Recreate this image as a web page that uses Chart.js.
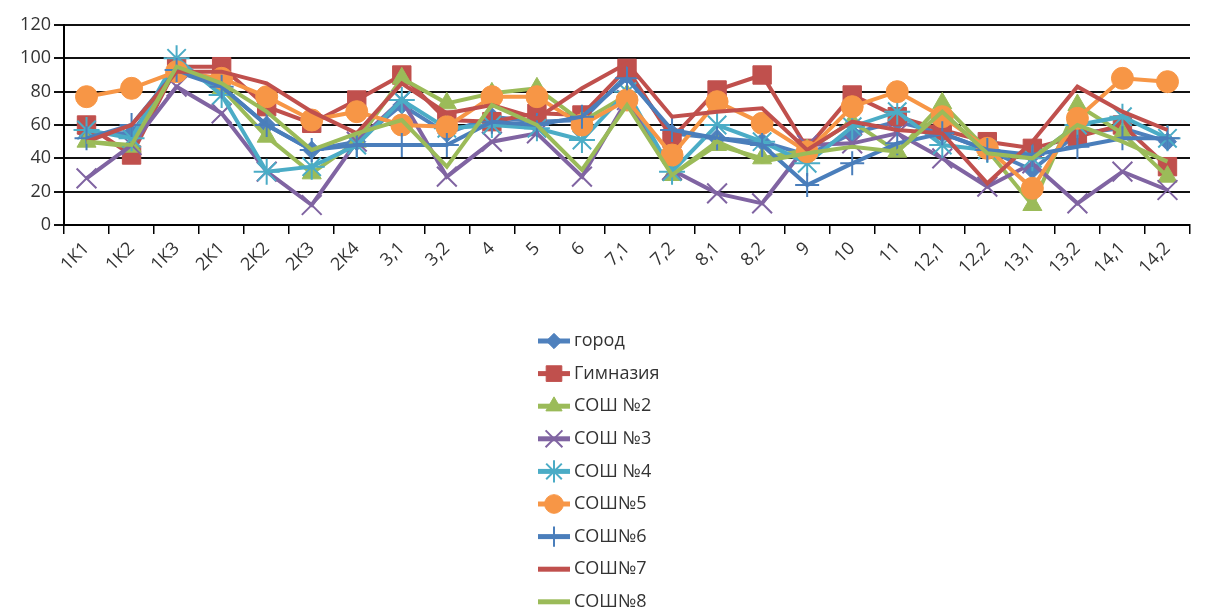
<!DOCTYPE html>
<html>
<head>
<meta charset="utf-8">
<script src="https://cdn.jsdelivr.net/npm/chart.js@4/dist/chart.umd.min.js"></script>
<style>
  html, body { margin: 0; background: #fff; }
</style>
</head>
<body>
<canvas id="chart" width="1206" height="610"></canvas>
<script>
// categories (tasks)
const categories = ['1К1', '1К2', '1К3', '2К1', '2К2', '2К3', '2К4', '3,1', '3,2', '4', '5', '6',
  '7,1', '7,2', '8,1', '8,2', '9', '10', '11', '12,1', '12,2', '13,1', '13,2', '14,1', '14,2'];

// series values, % of completion
const gorod     = [55, 55, 92, 83, 60, 45, 50, 72, 55, 65, 62, 63, 90, 55, 52, 50, 42, 55, 62, 55, 45, 33, 55, 58, 50];
const gymnasium = [60, 42, 95, 95, 71, 61, 75, 90, 63, 62, 67, 66, 94, 52, 81, 90, 46, 78, 65, 57, 50, 46, 53, 60, 35];
const school2   = [50, 47, 95, 82, 53, 31, 50, 88, 73, 79, 82, 62, 78, 30, 48, 40, 45, 62, 44, 73, 45, 12, 72, 55, 29];
const school3   = [28, 48, 83, 67, 32, 12, 50, 75, 29, 50, 55, 29, 75, 33, 19, 13, 48, 49, 55, 40, 23, 37, 13, 32, 21];
const school4   = [57, 52, 100, 78, 32, 35, 48, 75, 58, 60, 58, 51, 80, 32, 60, 50, 37, 59, 68, 48, 45, 40, 60, 65, 52];
const school5   = [77, 82, 92, 88, 77, 63, 68, 60, 59, 77, 77, 60, 75, 42, 74, 61, 44, 71, 80, 65, 46, 22, 64, 88, 86];
const school6   = [52, 60, 93, 83, 60, 45, 48, 48, 48, 62, 60, 65, 88, 57, 52, 48, 24, 37, 49, 55, 45, 42, 47, 52, 52];
const school7   = [50, 60, 92, 92, 85, 68, 55, 85, 67, 72, 64, 82, 97, 65, 68, 70, 45, 62, 57, 55, 25, 50, 83, 68, 57];
const school8   = [50, 48, 95, 85, 68, 45, 55, 63, 35, 72, 60, 33, 72, 30, 50, 38, 43, 47, 44, 68, 43, 40, 60, 50, 38];

const yTicks = [0, 20, 40, 60, 80, 100, 120];

const FONT = '"Open Sans", "Noto Sans", sans-serif';

function series(label, data, color, style, radius, bw) {
  return {
    label, data,
    borderColor: color,
    backgroundColor: color,
    borderWidth: 4,
    pointStyle: style,
    pointRadius: radius,
    pointHoverRadius: radius,
    pointBackgroundColor: color,
    pointBorderColor: color,
    pointBorderWidth: bw,
    tension: 0
  };
}

const datasets = [
  series('город', gorod, '#4F81BD', 'rectRot', 9, 1),
  series('Гимназия', gymnasium, '#C0504D', 'rect', 13, 1),
  series('СОШ №2', school2, '#9BBB59', 'triangle', 11, 1),
  series('СОШ №3', school3, '#8064A2', 'crossRot', 14, 2),
  series('СОШ №4', school4, '#4BACC6', 'star', 13, 2),
  series('СОШ№5', school5, '#F79646', 'circle', 11, 1),
  series('СОШ№6', school6, '#4A7EBB', 'cross', 12, 2),
  series('СОШ№7', school7, '#C0504D', 'circle', 0, 0),
  series('СОШ№8', school8, '#9BBB59', 'circle', 0, 0)
];
// later series drawn on top, like the original
datasets.forEach((d, i) => { d.order = datasets.length - i; });

// vertical legend under the chart
const listLegend = {
  id: 'listLegend',
  afterDraw(chart) {
    const ctx = chart.ctx;
    ctx.save();
    chart.data.datasets.forEach((ds, i) => {
      const y = 341 + i * 32.6;
      ctx.strokeStyle = ds.borderColor;
      ctx.lineWidth = 5;
      ctx.beginPath();
      ctx.moveTo(538, y);
      ctx.lineTo(570, y);
      ctx.stroke();
      if (ds.pointRadius > 0) {
        ctx.fillStyle = ds.pointBackgroundColor;
        ctx.strokeStyle = ds.pointBorderColor;
        ctx.lineWidth = ds.pointBorderWidth;
        Chart.helpers.drawPoint(ctx, {
          pointStyle: ds.pointStyle,
          radius: ds.pointRadius * 0.85,
          borderWidth: ds.pointBorderWidth,
          rotation: 0
        }, 554, y);
      }
      ctx.fillStyle = '#333';
      ctx.font = '18px ' + FONT;
      ctx.textBaseline = 'middle';
      ctx.textAlign = 'left';
      ctx.fillText(ds.label, 574, y);
    });
    ctx.restore();
  }
};

new Chart(document.getElementById('chart'), {
  type: 'line',
  data: { labels: categories, datasets },
  options: {
    responsive: false,
    animation: false,
    layout: { padding: { top: 25, right: 2, left: 0, bottom: 0 } },
    plugins: {
      legend: { display: false },
      tooltip: { enabled: false }
    },
    scales: {
      x: {
        offset: true,
        grid: {
          offset: true,
          drawOnChartArea: false,
          drawTicks: true,
          tickLength: 9,
          color: '#000',
          lineWidth: 1.5
        },
        border: { color: '#000', width: 2 },
        ticks: {
          autoSkip: false,
          maxRotation: 45,
          minRotation: 45,
          padding: 4,
          color: '#333',
          font: { family: FONT, size: 18 }
        },
        afterFit(scale) { scale.height = 385; }
      },
      y: {
        min: 0,
        max: 120,
        afterBuildTicks(scale) { scale.ticks = yTicks.map(v => ({ value: v })); },
        grid: {
          color: '#111',
          lineWidth: 2,
          drawTicks: true,
          tickLength: 10
        },
        border: { color: '#000', width: 2 },
        ticks: {
          padding: 3,
          color: '#333',
          font: { family: FONT, size: 18 }
        },
        afterFit(scale) { scale.width = 64; }
      }
    }
  },
  plugins: [listLegend]
});
</script>
</body>
</html>
